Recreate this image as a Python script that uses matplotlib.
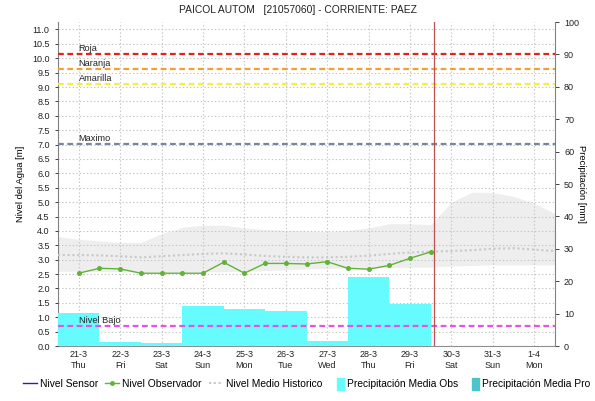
import numpy as np
import pandas as pd
import matplotlib
matplotlib.use('Agg')
import matplotlib.pyplot as plt
import matplotlib.dates as mdates
from matplotlib.lines import Line2D
from matplotlib.patches import Patch, Rectangle
from matplotlib.legend_handler import HandlerPatch

plt.rcParams['font.family'] = ['Liberation Sans', 'DejaVu Sans']

# observer readings every 12 h, from 21-3 00:00
obs_start = '2024-03-21 00:00'
nivel_obs = [2.53, 2.70, 2.68, 2.53, 2.53, 2.53, 2.53, 2.91, 2.53,
             2.87, 2.87, 2.85, 2.93, 2.70, 2.67, 2.80, 3.05, 3.27]

# historical band (min / max) and mean level, every 12 h from 20-3 12:00
hist_start = '2024-03-20 12:00'
hist_max = [3.80, 3.71, 3.65, 3.60, 3.60, 3.90, 4.12, 4.20, 4.20, 4.10, 4.05, 4.03, 4.00,
            3.97, 4.02, 4.10, 4.25, 4.25, 4.22, 5.00, 5.35, 5.33, 5.20, 4.96, 4.60]
hist_min = [2.60, 2.60, 2.58, 2.58, 2.58, 2.58, 2.58, 2.58, 2.58, 2.60, 2.62, 2.65, 2.68,
            2.70, 2.70, 2.72, 2.72, 2.74, 2.74, 2.78, 2.80, 2.82, 2.82, 2.82, 2.82]
hist_mean = [3.16, 3.16, 3.15, 3.12, 3.08, 3.12, 3.16, 3.20, 3.22, 3.18, 3.13, 3.10, 3.08,
             3.08, 3.10, 3.14, 3.20, 3.25, 3.28, 3.30, 3.33, 3.38, 3.40, 3.35, 3.30]

# daily observed precipitation [mm]
precip_days = ['2024-03-21', '2024-03-22', '2024-03-23', '2024-03-24', '2024-03-25',
               '2024-03-26', '2024-03-27', '2024-03-28', '2024-03-29']
precip_obs = [10.1, 1.3, 0.8, 12.3, 11.3, 10.8, 1.6, 21.4, 12.9]

# alert levels [m]
niveles = {'Roja': 10.14, 'Naranja': 9.63, 'Amarilla': 9.11, 'Maximo': 7.01, 'Nivel Bajo': 0.70}
colores_nivel = {'Roja': '#e8201c', 'Naranja': '#f0a035', 'Amarilla': '#f4f040',
                 'Maximo': '#7a84a0', 'Nivel Bajo': '#e850e8'}

ahora = pd.Timestamp('2024-03-29 14:00')
x_ini = pd.Timestamp('2024-03-20 12:00')
x_fin = pd.Timestamp('2024-04-01 12:00')

t_obs = pd.date_range(obs_start, periods=len(nivel_obs), freq='12h')
t_hist = pd.date_range(hist_start, periods=len(hist_max), freq='12h')
t_prec = pd.to_datetime(precip_days)

fig = plt.figure(figsize=(5.95, 4.01), dpi=100)
ax = fig.add_axes([58/595, 1-346/401, (555-58)/595, (346-22)/401])
ax_p = ax.twinx()
ax_l = ax.twinx()

# background: historical band and grid
ax.fill_between(t_hist, hist_min, hist_max, color='#eeeeee', lw=0, zorder=1)
ax.set_ylim(0, 11.26)
ax.set_yticks(np.arange(0, 11.01, 0.5))
ax.set_yticklabels(['%.1f' % v for v in np.arange(0, 11.01, 0.5)])
ax.grid(True, color='#c4c4c4', linestyle=(0, (1.2, 2)), lw=0.8, zorder=2)
ax.set_axisbelow(False)
ax.set_xlim(x_ini, x_fin)
ax.xaxis.set_major_locator(mdates.DayLocator())
ax.xaxis.set_major_formatter(mdates.DateFormatter('%-d-%-m\n%a'))
ax.tick_params(axis='both', labelsize=6.5, colors='#222222', length=2.5, width=0.6)
ax.tick_params(axis='x', length=0, pad=3)
ax.set_ylabel('Nivel del Agua [m]', fontsize=6.8, labelpad=5)

for s in ['top', 'right']:
    ax.spines[s].set_visible(False)
ax.spines['left'].set_color('#808080')
ax.spines['bottom'].set_color('#909090')
ax.spines['bottom'].set_linestyle((0, (1, 1)))

# precipitation bars on the right axis
ax_p.bar(t_prec, precip_obs, width=1.0, color='#66fbff', lw=0, zorder=3)
ax_p.set_ylim(0, 100)
ax_p.set_yticks(np.arange(0, 101, 10))
ax_p.tick_params(labelsize=6.5, colors='#222222', length=3, width=0.6)
ax_p.set_ylabel('Precipitación [mm]', fontsize=6.8, rotation=270, labelpad=5)
for s in ['top', 'left', 'bottom']:
    ax_p.spines[s].set_visible(False)
ax_p.spines['right'].set_color('#808080')

# level lines on top
ax_l.set_ylim(ax.get_ylim())
ax_l.axis('off')
ax_l.set_xlim(x_ini, x_fin)
ax_l.plot(t_hist, hist_mean, color='#c8c8c8', lw=1.5, linestyle=(0, (1, 1.3)))
ax_l.plot(t_obs, nivel_obs, color='#62b23a', lw=1, marker='o', ms=2.6)
for nombre, valor in niveles.items():
    ax_l.axhline(valor, color=colores_nivel[nombre], lw=1.6, linestyle=(0, (2.6, 1.6)))
    ax_l.text(pd.Timestamp('2024-03-21'), valor + 0.03, nombre, fontsize=6.6,
              color='#222222', va='bottom', ha='left')
ax_l.axvline(ahora, color='#c0504d', lw=0.9)

fig.text(0.5, 1-10/401, 'PAICOL AUTOM   [21057060] - CORRIENTE: PAEZ',
         ha='center', va='center', fontsize=7.4, color='#222222')


def caja_estrecha(legend, orig_handle, xdescent, ydescent, width, height, fontsize):
    return Rectangle((xdescent + width - 5, -ydescent - 1), 5, height + 2)


handles = [
    Line2D([], [], color='#1a2a9a', lw=1),
    Line2D([], [], color='#62b23a', lw=1, marker='o', ms=2.5),
    Line2D([], [], color='#c8c8c8', lw=1.5, linestyle=(0, (1, 1.3))),
    Patch(color='#66fbff'),
    Patch(color='#4cc4c8'),
]
labels = ['Nivel Sensor', 'Nivel Observador', 'Nivel Medio Historico',
          'Precipitación Media Obs', 'Precipitación Media Pro']
fig.legend(handles, labels, loc='center', bbox_to_anchor=(0.515, 1-384/401), ncol=5,
           frameon=False, fontsize=7.4, handlelength=1.4, handleheight=1.0,
           handletextpad=0.3, columnspacing=0.65,
           handler_map={Patch: HandlerPatch(patch_func=caja_estrecha)})

plt.savefig('out.png', dpi=100)
